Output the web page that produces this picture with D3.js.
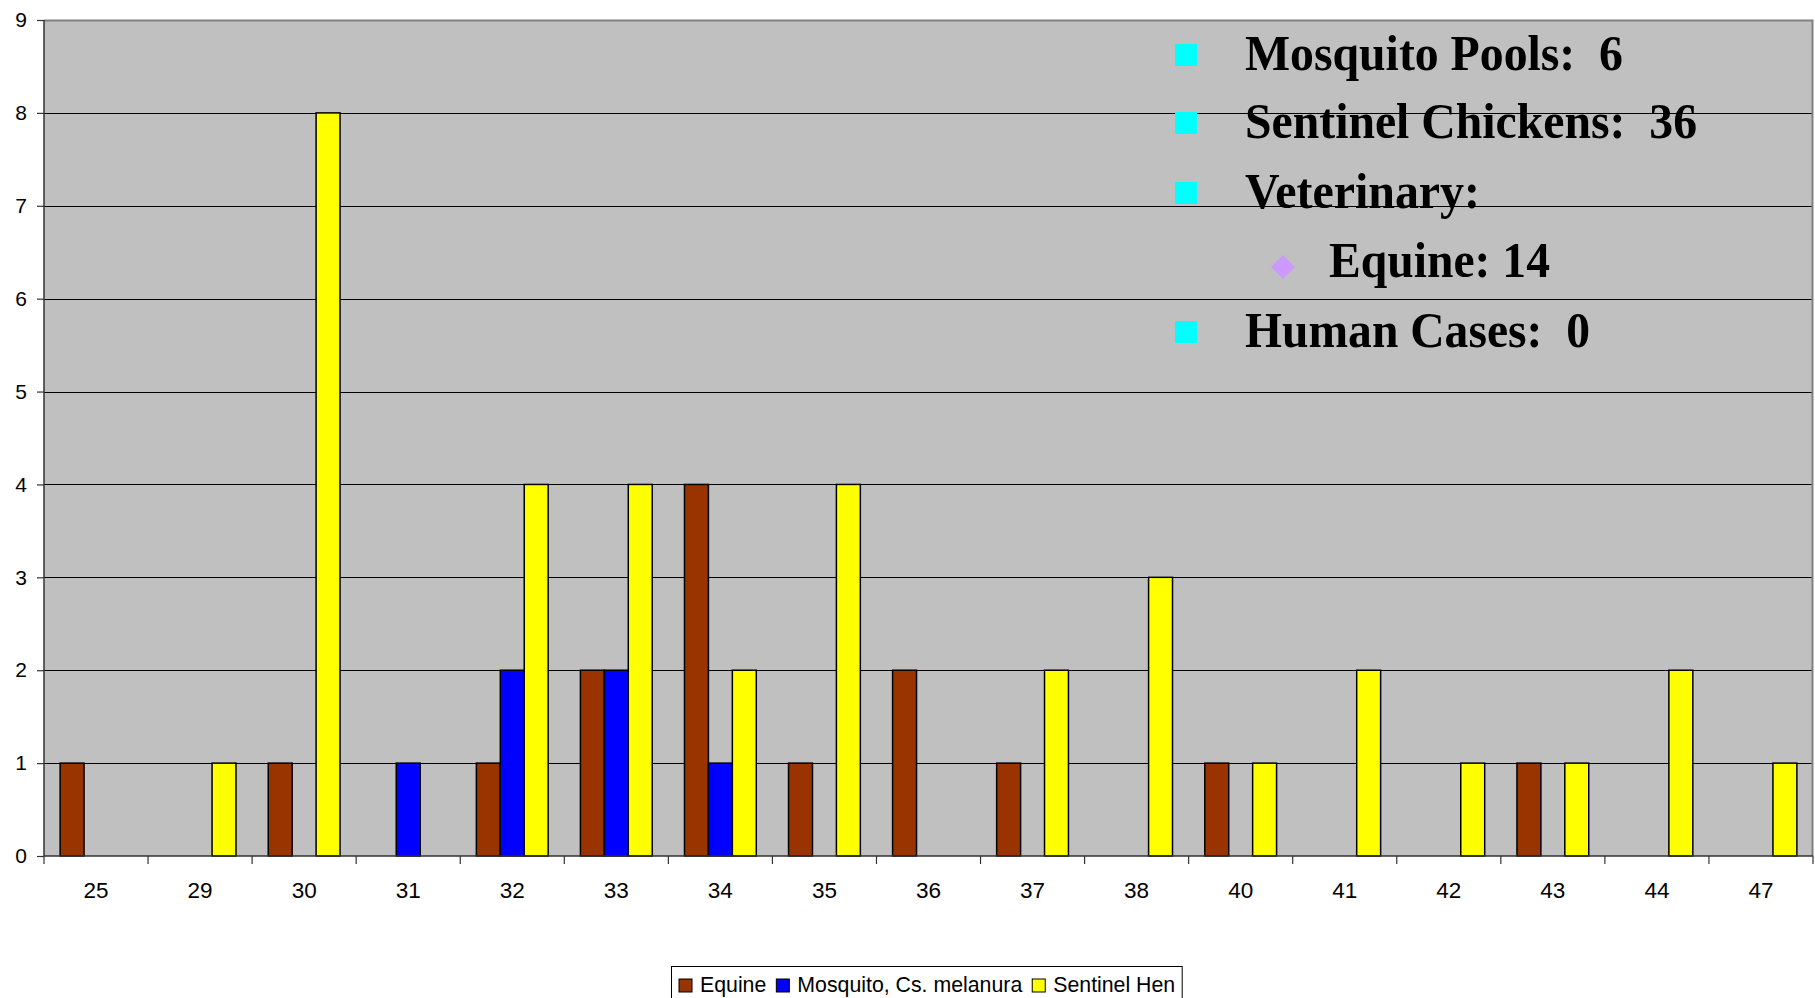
<!DOCTYPE html>
<html>
<head>
<meta charset="utf-8">
<script src="https://cdn.jsdelivr.net/npm/d3@7"></script>
<style>
  html, body { margin: 0; padding: 0; background: #fff; }
  svg { display: block; }
  text { white-space: pre; }
</style>
</head>
<body>
<svg id="chart" width="1815" height="998"></svg>
<script>
// ---- Data ----
const categories = ["25","29","30","31","32","33","34","35","36","37","38","40","41","42","43","44","47"];
const seriesNames = ["Equine", "Mosquito, Cs. melanura", "Sentinel Hen"];
const equine    = [1,0,1,0,1,2,4,1,2,1,0,1,0,0,1,0,0];
const mosquito  = [0,0,0,1,2,2,1,0,0,0,0,0,0,0,0,0,0];
const sentinel  = [0,1,8,0,4,4,2,4,0,2,3,1,2,1,1,2,1];
const seriesColors = ["#993300", "#0000FF", "#FFFF00"];
const yTicks = [0,1,2,3,4,5,6,7,8,9];
const noteLines = [
  {text: "Mosquito Pools:  6", bullet: "square", level: 0},
  {text: "Sentinel Chickens:  36", bullet: "square", level: 0},
  {text: "Veterinary:", bullet: "square", level: 0},
  {text: "Equine: 14", bullet: "diamond", level: 1},
  {text: "Human Cases:  0", bullet: "square", level: 0}
];
const noteWidths = [378, 452, 235, 221, 345];

const seriesValues = [equine, mosquito, sentinel];

(function () {
// ---- Layout ----
const svg = d3.select("#chart");
const pL = 44, pT = 20, pR = 1813, pB = 856;

const x0 = d3.scaleBand().domain(categories).range([pL, pR]).paddingInner(0).paddingOuter(0);
const bw = x0.bandwidth();
const gapHalf = bw * 0.155;
const x1 = d3.scaleBand().domain(d3.range(seriesNames.length)).range([gapHalf, bw - gapHalf]).padding(0);
const y = d3.scaleLinear().domain([0, 9]).range([pB, pT]);

// plot background
svg.append("rect").attr("x", pL).attr("y", pT)
  .attr("width", pR - pL).attr("height", pB - pT)
  .attr("fill", "#C0C0C0");

// gridlines
svg.append("g").selectAll("line").data(yTicks.filter(d => d > 0 && d < 9)).join("line")
  .attr("x1", pL).attr("x2", pR)
  .attr("y1", d => Math.round(y(d)) + 0.5).attr("y2", d => Math.round(y(d)) + 0.5)
  .attr("stroke", "#000").attr("stroke-width", 1.2);

// top and right border
svg.append("path")
  .attr("d", `M${pL},${pT + 0.5} H${pR - 0.5} V${pB}`)
  .attr("fill", "none").attr("stroke", "#808080").attr("stroke-width", 2);

// bars
const groups = svg.append("g").selectAll("g").data(categories).join("g")
  .attr("transform", d => `translate(${x0(d)},0)`);
groups.selectAll("rect")
  .data((d, i) => seriesValues.map((s, k) => ({k, v: s[i]})))
  .join("rect")
  .attr("x", d => x1(d.k))
  .attr("y", d => y(d.v))
  .attr("width", x1.bandwidth())
  .attr("height", d => y(0) - y(d.v))
  .attr("fill", d => seriesColors[d.k])
  .attr("stroke", "#000")
  .attr("stroke-width", 1.5);

// y axis
const yAxis = d3.axisLeft(y).tickValues(yTicks).tickSize(7).tickPadding(10).tickFormat(d3.format("d"));
const gy = svg.append("g").attr("transform", `translate(${pL},0)`).call(yAxis);
gy.select(".domain").attr("stroke", "#333").attr("stroke-width", 1.5).attr("d", `M0,${pT}V${pB}`);
gy.selectAll(".tick line").attr("stroke", "#333").attr("stroke-width", 1.2);
gy.selectAll(".tick text").attr("font-family", "Liberation Sans, Arial, sans-serif")
  .attr("font-size", 21).attr("fill", "#000");

// x axis
const gx = svg.append("g").attr("transform", `translate(0,${pB})`);
gx.append("line").attr("x1", pL).attr("x2", pR).attr("y1", 0).attr("y2", 0)
  .attr("stroke", "#333").attr("stroke-width", 1.5);
const boundaries = categories.map(c => x0(c)).concat([pR]);
gx.selectAll("line.tk").data(boundaries).join("line").attr("class", "tk")
  .attr("x1", d => d).attr("x2", d => d).attr("y1", 0).attr("y2", 8)
  .attr("stroke", "#333").attr("stroke-width", 1.2);
gx.selectAll("text").data(categories).join("text")
  .attr("x", d => x0(d) + bw / 2).attr("y", 42)
  .attr("text-anchor", "middle")
  .attr("font-family", "Liberation Sans, Arial, sans-serif")
  .attr("font-size", 22.5).attr("fill", "#000")
  .text(d => d);

// notes text box
const note = svg.append("g");
const lineY = [70, 138, 208, 277, 347];
noteLines.forEach((ln, i) => {
  const tx = ln.level === 0 ? 1245 : 1329;
  if (ln.bullet === "square") {
    note.append("rect").attr("x", 1175).attr("y", lineY[i] - 26)
      .attr("width", 22).attr("height", 22).attr("fill", "#00FFFF");
  } else {
    const cx = 1283, cy = lineY[i] - 10;
    note.append("path")
      .attr("d", `M${cx},${cy - 12} L${cx + 12},${cy} L${cx},${cy + 12} L${cx - 12},${cy} Z`)
      .attr("fill", "#CC99FF");
  }
  note.append("text")
    .attr("x", tx).attr("y", lineY[i])
    .attr("font-family", "Liberation Serif, 'Times New Roman', serif")
    .attr("font-weight", "bold").attr("font-size", 51)
    .attr("textLength", noteWidths[i]).attr("lengthAdjust", "spacingAndGlyphs")
    .attr("fill", "#000")
    .text(ln.text);
});

// legend
const lg = svg.append("g");
const lgItems = lg.selectAll("g").data(seriesNames).join("g");
lgItems.append("rect").attr("class", "sw").attr("width", 13).attr("height", 13)
  .attr("fill", (d, i) => seriesColors[i]).attr("stroke", "#000").attr("stroke-width", 1);
lgItems.append("text").attr("x", 21).attr("y", 13)
  .attr("font-family", "Liberation Sans, Arial, sans-serif")
  .attr("font-size", 21.3).attr("fill", "#000").text(d => d);
let cx = 679;
lgItems.each(function () {
  const g = d3.select(this);
  g.attr("transform", `translate(${cx},979)`);
  const w = g.select("text").node().getComputedTextLength();
  cx += 21 + w + 10;
});
lg.insert("rect", ":first-child")
  .attr("x", 671.5).attr("y", 966.5)
  .attr("width", cx - 3 - 671.5).attr("height", 40)
  .attr("fill", "#fff").attr("stroke", "#000").attr("stroke-width", 1);
})();
</script>
</body>
</html>
